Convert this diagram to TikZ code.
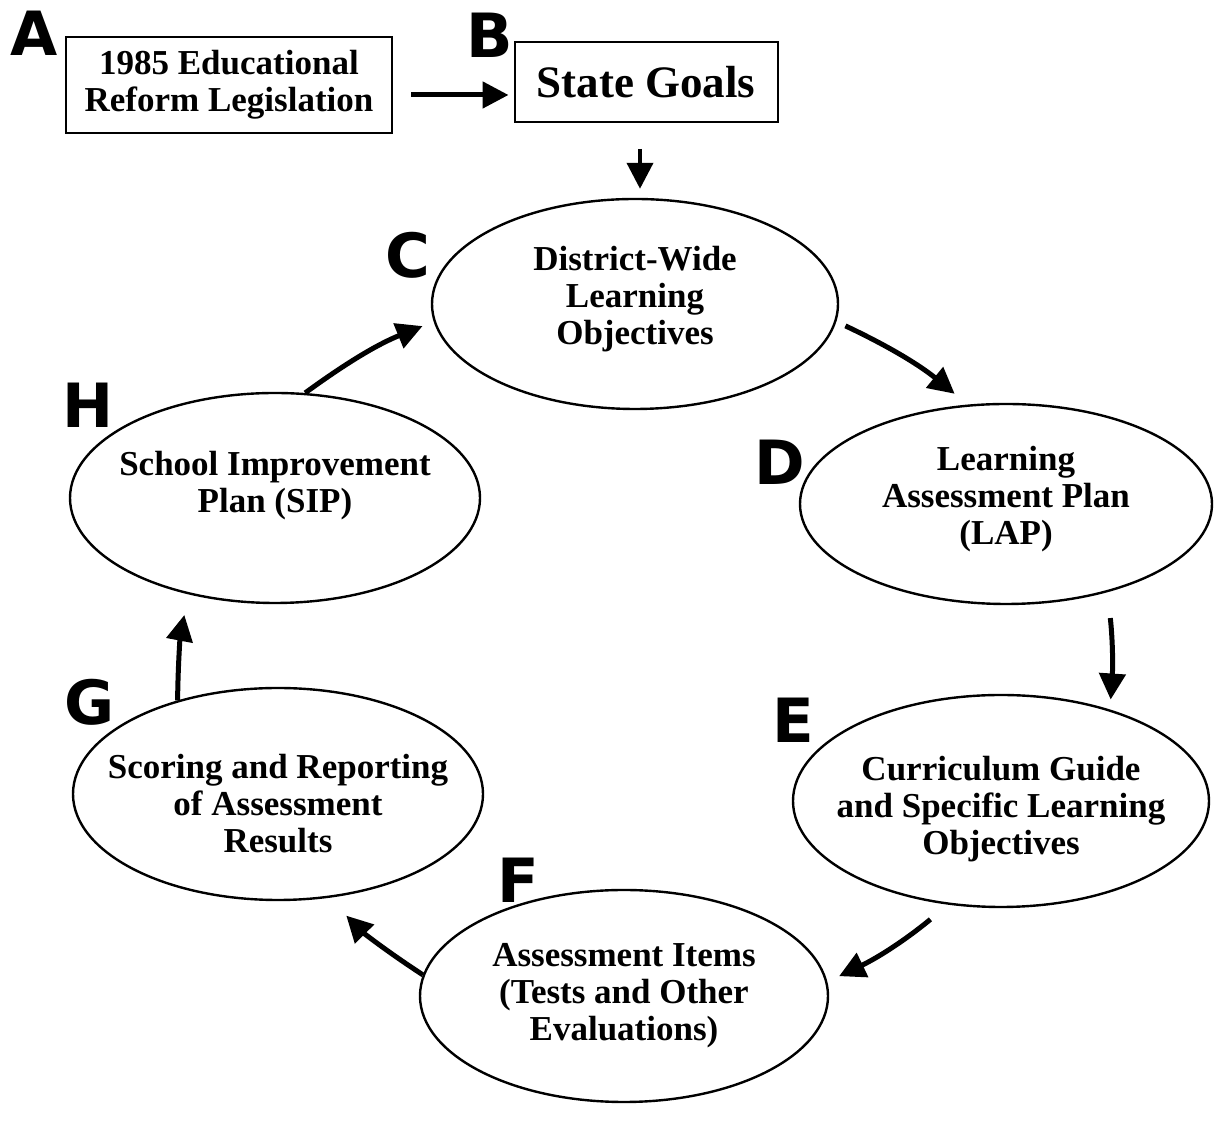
\documentclass[tikz,border=0pt]{standalone}
\usepackage{fontspec}
\setmainfont{Liberation Serif}
\newfontfamily\lblfont{DejaVu Sans}
\usetikzlibrary{shapes.geometric,arrows.meta}
\begin{document}
\begin{tikzpicture}
  [
    x=1pt, y=1pt,
    box/.style={draw=black, line width=2pt, align=center, inner sep=0pt,
    font=\bfseries\fontsize{35}{37}\selectfont},
    oval/.style={ellipse, draw=black, line width=2.4pt, inner sep=0pt},
    txt/.style={align=center, inner sep=0pt, font=\bfseries\fontsize{35}{37}\selectfont},
    lbl/.style={inner sep=0pt, font=\lblfont\bfseries\fontsize{61}{61}\selectfont},
    ld/.style={line width=5pt, -{Triangle[length=26pt,width=26pt]}}
  ]
  \useasboundingbox (0,0) rectangle (1221,1121);

  % top boxes
  \node (cA) at (229,1036) [box, minimum width=326pt, minimum height=96pt]
    {1985 Educational\\Reform Legislation};
  \node (cB) at (646,1039) [box, minimum width=263pt, minimum height=80pt,
    font=\bfseries\fontsize{45}{48}\selectfont] {State Goals};

  % cycle
  \node (cC) at ( 635,817) [oval, minimum width=406pt, minimum height=210pt] {};
  \node (cD) at (1006,617) [oval, minimum width=412pt, minimum height=200pt] {};
  \node (cE) at (1001,320) [oval, minimum width=416pt, minimum height=212pt] {};
  \node (cF) at ( 624,125) [oval, minimum width=408pt, minimum height=212pt] {};
  \node (cG) at ( 278,327) [oval, minimum width=410pt, minimum height=212pt] {};
  \node (cH) at ( 275,623) [oval, minimum width=410pt, minimum height=210pt] {};

  \node (tC) at ([yshift=5pt]cC)  [txt] {District-Wide\\Learning\\Objectives};
  \node (tD) at ([yshift=5pt]cD)  [txt] {Learning\\Assessment Plan\\(LAP)};
  \node (tE) at ([yshift=-8pt]cE) [txt] {Curriculum Guide\\and Specific Learning\\Objectives};
  \node (tF) at ([yshift=0pt]cF)  [txt] {Assessment Items\\(Tests and Other\\Evaluations)};
  \node (tG) at ([yshift=-10pt]cG) [txt] {Scoring and Reporting\\of Assessment\\Results};
  \node (tH) at ([yshift=12pt]cH) [txt] {School Improvement\\Plan (SIP)};

  % letters
  \node (lA) at ( 34,1088) [lbl] {A};
  \node (lB) at (490,1086) [lbl] {B};
  \node (lC) at (408, 866) [lbl] {C};
  \node (lD) at (780, 659) [lbl] {D};
  \node (lE) at (793, 401) [lbl] {E};
  \node (lF) at (518, 241) [lbl] {F};
  \node (lG) at ( 90, 419) [lbl] {G};
  \node (lH) at ( 88, 716) [lbl] {H};

  \draw [ld, shorten <=18pt, shorten >=5pt] ([yshift=-10pt]cA.east) -- ([yshift=-10pt]cA.east -| cB.west);
  \draw [ld, line width=4pt, shorten <=26pt, shorten >=9pt] ([xshift=-6pt]cB.south) -- ([xshift=-6pt]cB.south |- cC.north);

  \draw [ld, shorten <=10pt, shorten >=17pt] (cC.-5) to[bend left=7] (cD.111);
  \draw [ld, shorten <=26pt, shorten >=10pt] (cD.-41) to[bend left=5] (cE.40);
  \draw [ld, shorten <=23pt, shorten >=13pt] (cE.-117) to[bend left=7] (cF.4);
  \draw [ld, shorten >=25pt] (cF.174) to[bend left=6] (cG.-64);
  \draw [ld, shorten >=21pt] (cG.137) to[bend left=5] (cH.-132);
  \draw [ld, shorten >=12pt] (cH.74) to[bend left=7] (cC.185);
\end{tikzpicture}
\end{document}
